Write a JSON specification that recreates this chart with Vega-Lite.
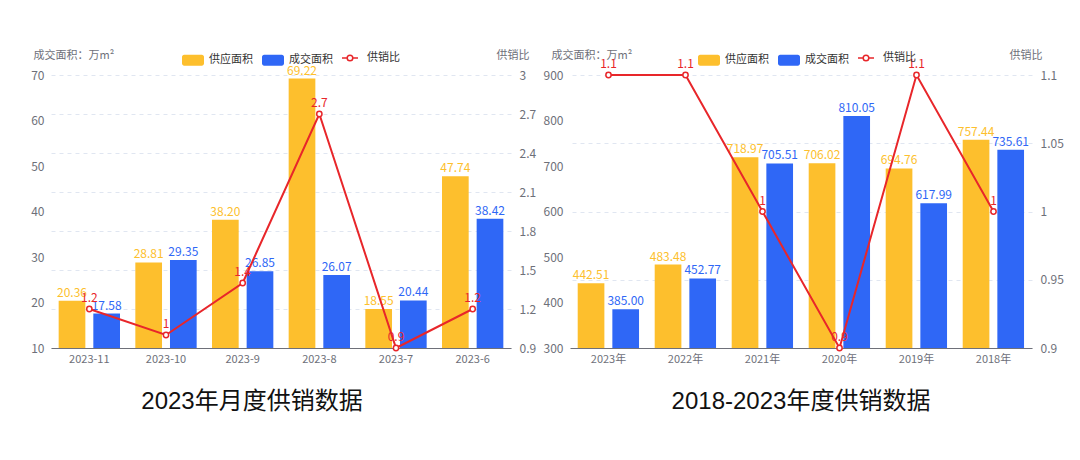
{
  "$schema": "https://vega.github.io/schema/vega-lite/v6.json",
  "padding": {"left": 30, "top": 49, "right": 0, "bottom": 0},
  "autosize": {"type": "pad"},
  "background": "white",
  "spacing": 7,
  "config": {
    "font": "Noto Sans CJK SC",
    "view": {"stroke": null},
    "axis": {"labelFont": "Noto Sans CJK SC", "titleFont": "Noto Sans CJK SC", "labelColor": "#6E7079", "titleColor": "#6E7079", "titleFontWeight": "normal"},
    "legend": {"labelFont": "Noto Sans CJK SC", "labelColor": "#333333", "labelFontSize": 11}
  },
  "datasets": {
    "m_bar": [
      {"cat": "2023-11", "series": "供应面积", "value": 20.36},
      {"cat": "2023-11", "series": "成交面积", "value": 17.58},
      {"cat": "2023-10", "series": "供应面积", "value": 28.81},
      {"cat": "2023-10", "series": "成交面积", "value": 29.35},
      {"cat": "2023-9", "series": "供应面积", "value": 38.20},
      {"cat": "2023-9", "series": "成交面积", "value": 26.85},
      {"cat": "2023-8", "series": "供应面积", "value": 69.22},
      {"cat": "2023-8", "series": "成交面积", "value": 26.07},
      {"cat": "2023-7", "series": "供应面积", "value": 18.55},
      {"cat": "2023-7", "series": "成交面积", "value": 20.44},
      {"cat": "2023-6", "series": "供应面积", "value": 47.74},
      {"cat": "2023-6", "series": "成交面积", "value": 38.42}
    ],
    "m_ratio": [
      {"cat": "2023-11", "ratio": 1.2},
      {"cat": "2023-10", "ratio": 1},
      {"cat": "2023-9", "ratio": 1.4},
      {"cat": "2023-8", "ratio": 2.7},
      {"cat": "2023-7", "ratio": 0.9},
      {"cat": "2023-6", "ratio": 1.2}
    ],
    "y_bar": [
      {"cat": "2023年", "series": "供应面积", "value": 442.51},
      {"cat": "2023年", "series": "成交面积", "value": 385.00},
      {"cat": "2022年", "series": "供应面积", "value": 483.48},
      {"cat": "2022年", "series": "成交面积", "value": 452.77},
      {"cat": "2021年", "series": "供应面积", "value": 718.97},
      {"cat": "2021年", "series": "成交面积", "value": 705.51},
      {"cat": "2020年", "series": "供应面积", "value": 706.02},
      {"cat": "2020年", "series": "成交面积", "value": 810.05},
      {"cat": "2019年", "series": "供应面积", "value": 694.76},
      {"cat": "2019年", "series": "成交面积", "value": 617.99},
      {"cat": "2018年", "series": "供应面积", "value": 757.44},
      {"cat": "2018年", "series": "成交面积", "value": 735.61}
    ],
    "y_ratio": [
      {"cat": "2023年", "ratio": 1.1},
      {"cat": "2022年", "ratio": 1.1},
      {"cat": "2021年", "ratio": 1},
      {"cat": "2020年", "ratio": 0.9},
      {"cat": "2019年", "ratio": 1.1},
      {"cat": "2018年", "ratio": 1}
    ]
  },
  "hconcat": [
    {
      "width": 460,
      "height": 273,
      "title": {"text": "2023年月度供销数据", "orient": "bottom", "fontSize": 24, "fontWeight": "normal", "color": "#111111", "font": "Liberation Sans, Noto Sans CJK SC", "offset": 26, "dx": -29},
      "layer": [
        {
          "data": {"name": "m_bar"},
          "encoding": {
            "x": {"field": "cat", "type": "nominal", "scale": {"domain": ["2023-11", "2023-10", "2023-9", "2023-8", "2023-7", "2023-6"], "paddingInner": 0.2, "paddingOuter": 0.1},
              "axis": {"title": null, "labelAngle": 0, "ticks": false, "domainColor": "#6E7079", "labelFontSize": 11, "labelPadding": 5}},
            "xOffset": {"field": "series", "scale": {"domain": ["供应面积", "成交面积"], "paddingInner": 0.23}},
            "y": {"field": "value", "type": "quantitative", "scale": {"domain": [10, 70]},
              "axis": {"orient": "left", "values": [10, 20, 30, 40, 50, 60, 70], "grid": false, "domain": false, "ticks": false, "labelFontSize": 12, "labelPadding": 7,
                "title": "成交面积：万m²", "titleAngle": 0, "titleAlign": "left", "titleBaseline": "middle", "titleFontSize": 11, "titleX": -18, "titleY": -20}}
          },
          "layer": [
            {
              "mark": {"type": "bar"},
              "encoding": {
                "y2": {"datum": 10},
                "fill": {"field": "series", "type": "nominal", "scale": {"domain": ["供应面积", "成交面积"], "range": ["#FDBF2D", "#2F67F6"]},
                  "legend": {"title": null, "orient": "none", "direction": "horizontal", "legendX": 131, "legendY": -26, "symbolType": "M-0.8,-0.5H0.8A0.2,0.2 0 0 1 1,-0.3V0.3A0.2,0.2 0 0 1 0.8,0.5H-0.8A0.2,0.2 0 0 1 -1,0.3V-0.3A0.2,0.2 0 0 1 -0.8,-0.5Z", "symbolSize": 484, "symbolStrokeWidth": 0, "labelOffset": 5, "columnPadding": 9}}
              }
            },
            {
              "mark": {"type": "text", "dy": -8, "fontSize": 12},
              "encoding": {
                "text": {"field": "value", "type": "quantitative", "format": ".2f"},
                "fill": {"field": "series", "type": "nominal"}
              }
            }
          ]
        },
        {
          "data": {"name": "m_ratio"},
          "encoding": {
            "x": {"field": "cat", "type": "nominal"},
            "y": {"field": "ratio", "type": "quantitative", "scale": {"domain": [0.9, 3]},
              "axis": {"orient": "right", "values": [0.9, 1.2, 1.5, 1.8, 2.1, 2.4, 2.7, 3], "format": "~g", "grid": true, "gridDash": [4, 4], "gridColor": "#E0E6F1", "domain": false, "ticks": false, "labelFontSize": 12, "labelPadding": 8,
                "title": "供销比", "titleAngle": 0, "titleAlign": "left", "titleBaseline": "middle", "titleFontSize": 11, "titleX": -15, "titleY": -20}}
          },
          "layer": [
            {
              "mark": {"type": "line", "strokeWidth": 2},
              "encoding": {
                "stroke": {"datum": "供销比", "type": "nominal", "scale": {"range": ["#E8262A"]},
                  "legend": {"title": null, "orient": "none", "legendX": 290, "legendY": -26, "symbolType": "M-1,0H-0.35M0.35,0H1M-0.35,0A0.35,0.35 0 1 0 0.35,0A0.35,0.35 0 1 0 -0.35,0", "symbolSize": 256, "symbolStrokeWidth": 1.5, "symbolFillColor": "white", "labelOffset": 8}}
              }
            },
            {
              "mark": {"type": "point", "filled": true, "fill": "white", "stroke": "#E8262A", "strokeWidth": 1.5, "size": 28, "opacity": 1}
            },
            {
              "mark": {"type": "text", "dy": -11, "fontSize": 12, "color": "#E8262A"},
              "encoding": {"text": {"field": "ratio", "type": "quantitative", "format": "~g"}}
            }
          ]
        }
      ],
      "resolve": {"scale": {"y": "independent"}}
    },
    {
      "width": 462,
      "height": 273,
      "title": {"text": "2018-2023年度供销数据", "orient": "bottom", "fontSize": 24, "fontWeight": "normal", "color": "#111111", "font": "Liberation Sans, Noto Sans CJK SC", "offset": 26, "dx": 0},
      "layer": [
        {
          "data": {"name": "y_bar"},
          "encoding": {
            "x": {"field": "cat", "type": "nominal", "scale": {"domain": ["2023年", "2022年", "2021年", "2020年", "2019年", "2018年"], "paddingInner": 0.2, "paddingOuter": 0.1},
              "axis": {"title": null, "labelAngle": 0, "ticks": false, "domainColor": "#6E7079", "labelFontSize": 11, "labelPadding": 5}},
            "xOffset": {"field": "series", "scale": {"domain": ["供应面积", "成交面积"], "paddingInner": 0.23}},
            "y": {"field": "value", "type": "quantitative", "scale": {"domain": [300, 900]},
              "axis": {"orient": "left", "values": [300, 400, 500, 600, 700, 800, 900], "grid": false, "domain": false, "ticks": false, "labelFontSize": 12, "labelPadding": 7,
                "title": "成交面积：万m²", "titleAngle": 0, "titleAlign": "left", "titleBaseline": "middle", "titleFontSize": 11, "titleX": -19, "titleY": -20}}
          },
          "layer": [
            {
              "mark": {"type": "bar"},
              "encoding": {
                "y2": {"datum": 300},
                "fill": {"field": "series", "type": "nominal", "scale": {"domain": ["供应面积", "成交面积"], "range": ["#FDBF2D", "#2F67F6"]},
                  "legend": {"title": null, "orient": "none", "direction": "horizontal", "legendX": 128, "legendY": -26, "symbolType": "M-0.8,-0.5H0.8A0.2,0.2 0 0 1 1,-0.3V0.3A0.2,0.2 0 0 1 0.8,0.5H-0.8A0.2,0.2 0 0 1 -1,0.3V-0.3A0.2,0.2 0 0 1 -0.8,-0.5Z", "symbolSize": 484, "symbolStrokeWidth": 0, "labelOffset": 5, "columnPadding": 9}}
              }
            },
            {
              "mark": {"type": "text", "dy": -8, "fontSize": 12},
              "encoding": {
                "text": {"field": "value", "type": "quantitative", "format": ".2f"},
                "fill": {"field": "series", "type": "nominal"}
              }
            }
          ]
        },
        {
          "data": {"name": "y_ratio"},
          "encoding": {
            "x": {"field": "cat", "type": "nominal"},
            "y": {"field": "ratio", "type": "quantitative", "scale": {"domain": [0.9, 1.1]},
              "axis": {"orient": "right", "values": [0.9, 0.95, 1, 1.05, 1.1], "format": "~g", "grid": true, "gridDash": [4, 4], "gridColor": "#E0E6F1", "domain": false, "ticks": false, "labelFontSize": 12, "labelPadding": 8,
                "title": "供销比", "titleAngle": 0, "titleAlign": "left", "titleBaseline": "middle", "titleFontSize": 11, "titleX": -23, "titleY": -20}}
          },
          "layer": [
            {
              "mark": {"type": "line", "strokeWidth": 2},
              "encoding": {
                "stroke": {"datum": "供销比", "type": "nominal", "scale": {"range": ["#E8262A"]},
                  "legend": {"title": null, "orient": "none", "legendX": 287, "legendY": -26, "symbolType": "M-1,0H-0.35M0.35,0H1M-0.35,0A0.35,0.35 0 1 0 0.35,0A0.35,0.35 0 1 0 -0.35,0", "symbolSize": 256, "symbolStrokeWidth": 1.5, "symbolFillColor": "white", "labelOffset": 8}}
              }
            },
            {
              "mark": {"type": "point", "filled": true, "fill": "white", "stroke": "#E8262A", "strokeWidth": 1.5, "size": 28, "opacity": 1}
            },
            {
              "mark": {"type": "text", "dy": -11, "fontSize": 12, "color": "#E8262A"},
              "encoding": {"text": {"field": "ratio", "type": "quantitative", "format": "~g"}}
            }
          ]
        }
      ],
      "resolve": {"scale": {"y": "independent"}}
    }
  ],
  "resolve": {
    "scale": {"x": "independent", "y": "independent", "fill": "independent", "stroke": "independent"},
    "legend": {"fill": "independent", "stroke": "independent"}
  }
}
